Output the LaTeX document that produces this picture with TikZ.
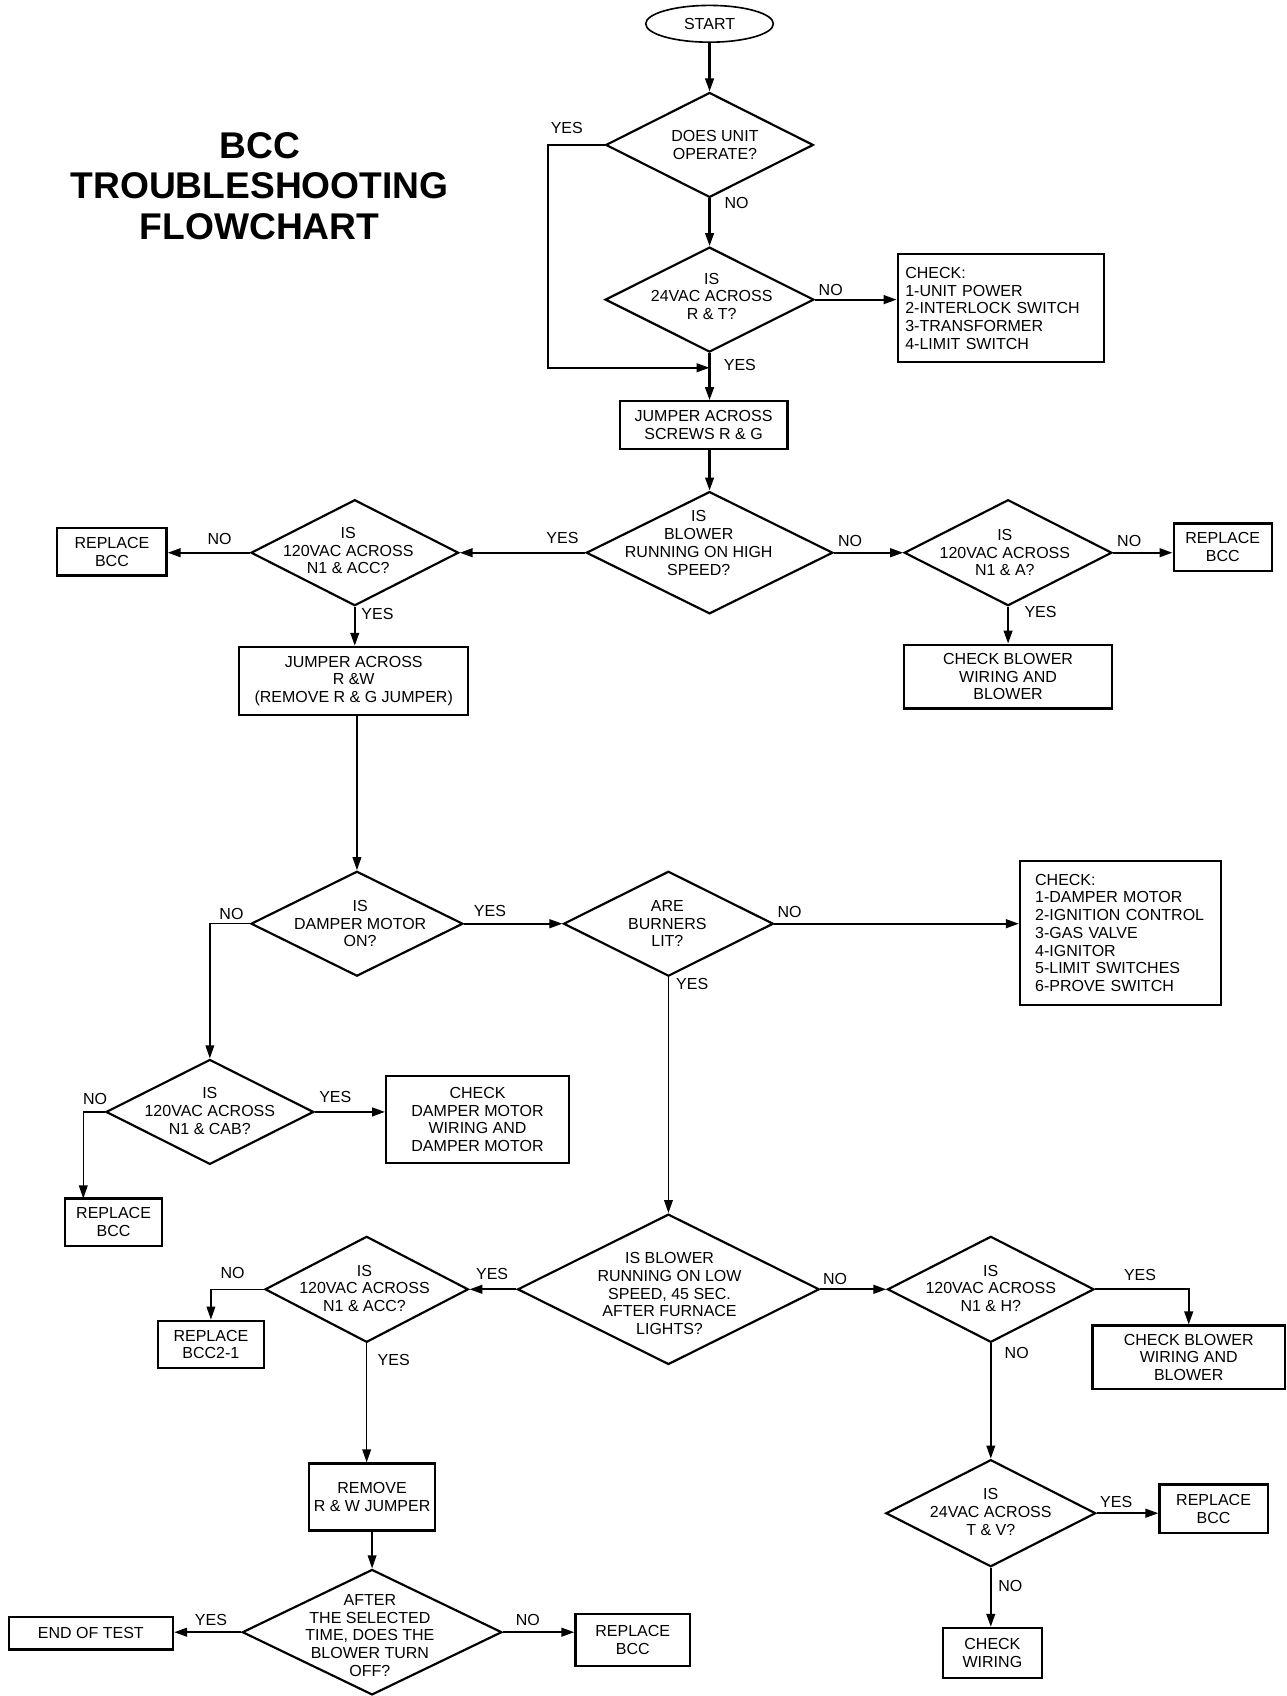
\documentclass[tikz,border=0pt]{standalone}
\usepackage{fontspec}
\setmainfont{Liberation Sans}
\usetikzlibrary{shapes.geometric,arrows.meta}
\begin{document}
\begin{tikzpicture}[x=1pt,y=-1pt,
 base/.style={font=\fontsize{14.8}{16.4}\selectfont},
 box/.style={draw, line width=2pt, rectangle, inner sep=0pt, align=center, base},
 lbox/.style={draw, line width=2pt, rectangle, inner ysep=0pt, align=left, base},
 dia/.style={draw, line width=2pt, diamond, inner sep=0pt},
 dtext/.style={base, align=center, inner sep=0pt},
 lab/.style={base, inner sep=0pt},
 arr/.style={line width=2pt, -{Triangle[length=12pt,width=8pt]}},
 tarr/.style={line width=1.4pt, -{Triangle[length=12pt,width=8pt]}},
 ln/.style={line width=2pt}]
\useasboundingbox (0,0) rectangle (1189,1568);

% title
\node[align=center, inner sep=0pt, font=\fontsize{34.4}{37.5}\selectfont\bfseries] (title) at (240,172) {BCC\\TROUBLESHOOTING\\FLOWCHART};

% nodes
\node[draw, ellipse, line width=1.5pt, minimum width=118pt, minimum height=34pt, inner sep=0pt, base] (start) at (656,22) {START};

\node[dia, minimum width=192pt, minimum height=97pt] (d1) at (656,134) {};
\node[dtext] (d1t) at (661,134) {DOES UNIT\\OPERATE?};

\node[dia, minimum width=193pt, minimum height=97pt] (d2) at (656,277) {};
\node[dtext] (d2t) at (658,274) {IS\\24VAC ACROSS\\R \& T?};

\node[lbox, minimum width=191pt, minimum height=100pt, inner xsep=7pt, text width=177pt] (chk1) at (925.5,285) {CHECK:\\1-UNIT POWER\\2-INTERLOCK SWITCH\\3-TRANSFORMER\\4-LIMIT SWITCH};

\node[box, minimum width=155pt, minimum height=44pt] (jmp1) at (650.5,393) {JUMPER ACROSS\\SCREWS R \& G};

\node[dia, minimum width=228pt, minimum height=113pt] (d3) at (656,511) {};
\node[dtext] (d3t) at (646,502) {IS\\BLOWER\\RUNNING ON HIGH\\SPEED?};

\node[dia, minimum width=192pt, minimum height=98pt] (d4) at (328,511) {};
\node[dtext] (d4t) at (322,509) {IS\\120VAC ACROSS\\N1 \& ACC?};

\node[box, minimum width=101pt, minimum height=44pt] (rep1) at (103.5,510) {REPLACE\\BCC};

\node[dia, minimum width=192pt, minimum height=98pt] (d5) at (932,511) {};
\node[dtext] (d5t) at (929,511) {IS\\120VAC ACROSS\\N1 \& A?};

\node[box, minimum width=91pt, minimum height=44pt] (rep2) at (1130.5,506) {REPLACE\\BCC};

\node[box, minimum width=192pt, minimum height=59pt] (chkb1) at (932,625.5) {CHECK BLOWER\\WIRING AND\\BLOWER};

\node[box, minimum width=212pt, minimum height=63pt] (jmp2) at (327,629.5) {JUMPER ACROSS\\R \&W\\(REMOVE R \& G JUMPER)};

\node[dia, minimum width=196pt, minimum height=97pt] (d6) at (330,854) {};
\node[dtext] (d6t) at (333,854) {IS\\DAMPER MOTOR\\ON?};

\node[dia, minimum width=194pt, minimum height=97pt] (d8) at (618,854) {};
\node[dtext] (d8t) at (617,854) {ARE\\BURNERS\\LIT?};

\node[lbox, minimum width=186pt, minimum height=133pt, inner xsep=14pt, text width=158pt] (chk2) at (1036,862.5) {CHECK:\\1-DAMPER MOTOR\\2-IGNITION CONTROL\\3-GAS VALVE\\4-IGNITOR\\5-LIMIT SWITCHES\\6-PROVE SWITCH};

\node[dia, minimum width=192pt, minimum height=97pt] (d7) at (194,1028) {};
\node[dtext] (d7t) at (194,1027) {IS\\120VAC ACROSS\\N1 \& CAB?};

\node[box, minimum width=90pt, minimum height=44pt] (rep3) at (105,1130) {REPLACE\\BCC};

\node[box, minimum width=169pt, minimum height=80pt] (chkd) at (441.5,1035) {CHECK\\DAMPER MOTOR\\WIRING AND\\DAMPER MOTOR};

\node[dia, minimum width=279pt, minimum height=139pt] (d9) at (618,1192) {};
\node[dtext] (d9t) at (619,1196) {IS BLOWER\\RUNNING ON LOW\\SPEED, 45 SEC.\\AFTER FURNACE\\LIGHTS?};

\node[dia, minimum width=188pt, minimum height=98pt] (d10) at (339,1192) {};
\node[dtext] (d10t) at (337,1191) {IS\\120VAC ACROSS\\N1 \& ACC?};

\node[box, minimum width=98pt, minimum height=44pt] (rep4) at (195,1243) {REPLACE\\BCC2-1};

\node[box, minimum width=116pt, minimum height=62pt] (rem) at (344,1384) {REMOVE\\R \& W JUMPER};

\node[dia, minimum width=240pt, minimum height=116pt] (d12) at (344,1509) {};
\node[dtext] (d12t) at (342,1512) {AFTER\\THE SELECTED\\TIME, DOES THE\\BLOWER TURN\\OFF?};

\node[box, minimum width=152pt, minimum height=30pt] (end) at (84,1510) {END OF TEST};

\node[box, minimum width=106pt, minimum height=48pt] (rep5) at (585,1516) {REPLACE\\BCC};

\node[dia, minimum width=191pt, minimum height=98pt] (d11) at (916,1192) {};
\node[dtext] (d11t) at (916,1191) {IS\\120VAC ACROSS\\N1 \& H?};

\node[box, minimum width=178pt, minimum height=59pt] (chkb2) at (1099,1255) {CHECK BLOWER\\WIRING AND\\BLOWER};

\node[dia, minimum width=194pt, minimum height=99pt] (d13) at (916,1399) {};
\node[dtext] (d13t) at (916,1398) {IS\\24VAC ACROSS\\T \& V?};

\node[box, minimum width=100pt, minimum height=45pt] (rep6) at (1122,1395) {REPLACE\\BCC};

\node[box, minimum width=91pt, minimum height=46pt] (chkw) at (917.5,1528) {CHECK\\WIRING};

% labels
\node[lab] (y1) at (524,118) {YES};
\node[lab] (n1) at (681,188) {NO};
\node[lab] (n2) at (768,268) {NO};
\node[lab] (y2) at (684,337) {YES};
\node[lab] (y3) at (520,497) {YES};
\node[lab] (n3) at (786,500) {NO};
\node[lab] (n4) at (203,498) {NO};
\node[lab] (y4) at (349,568) {YES};
\node[lab] (n5) at (1044,500) {NO};
\node[lab] (y5) at (962,566) {YES};
\node[lab] (n6) at (214,845) {NO};
\node[lab] (y6) at (453,842) {YES};
\node[lab] (n8) at (730,843) {NO};
\node[lab] (y8) at (640,910) {YES};
\node[lab] (n7) at (88,1016) {NO};
\node[lab] (y7) at (310,1014) {YES};
\node[lab] (y9) at (455,1178) {YES};
\node[lab] (n9) at (772,1182) {NO};
\node[lab] (n10) at (215,1177) {NO};
\node[lab] (y10) at (364,1257) {YES};
\node[lab] (y12) at (195,1498) {YES};
\node[lab] (n12) at (488,1498) {NO};
\node[lab] (y11) at (1054,1179) {YES};
\node[lab] (n11) at (940,1251) {NO};
\node[lab] (y13) at (1032,1389) {YES};
\node[lab] (n13) at (934,1466) {NO};

% helper coordinates
\coordinate (l1) at (507,134);
\coordinate (j1) at (656,340);
\coordinate (c7) at (77,1108);

% connectors
\draw[arr] (start.south) -- (d1.north);
\draw[arr] (d1.west) -- (l1) |- (j1);
\draw[arr] (d1.south) -- (d2.north);
\draw[arr] (d2.east) -- (d2.east -| chk1.west);
\draw[arr] (d2.south) -- (d2.south |- jmp1.north);
\draw[arr] (d3.north |- jmp1.south) -- (d3.north);
\draw[arr] (d3.west) -- (d4.east);
\draw[arr] (d3.east) -- (d5.west);
\draw[arr] (d4.west) -- (d4.west -| rep1.east);
\draw[arr] (d4.south) -- (d4.south |- jmp2.north);
\draw[arr] (d5.east) -- (d5.east -| rep2.west);
\draw[arr] (d5.south) -- (d5.south |- chkb1.north);
\draw[tarr] (d6.north |- jmp2.south) -- (d6.north);
\draw[tarr] (d6.west) -| (d7.north);
\draw[arr] (d6.east) -- (d8.west);
\draw[arr] (d8.east) -- (d8.east -| chk2.west);
\draw[tarr] (d8.south) -- (d9.north);
\draw[tarr] (d7.west) -| (c7);
\draw[arr] (d7.east) -- (d7.east -| chkd.west);
\draw[arr] (d9.west) -- (d10.east);
\draw[arr] (d9.east) -- (d11.west);
\draw[tarr] (d10.west) -| (rep4.north);
\draw[tarr] (d10.south) -- (d10.south |- rem.north);
\draw[tarr] (d12.north |- rem.south) -- (d12.north);
\draw[arr] (d12.west) -- (d12.west -| end.east);
\draw[arr] (d12.east) -- (d12.east -| rep5.west);
\draw[arr] (d11.east) -| (chkb2.north);
\draw[tarr] (d11.south) -- (d13.north);
\draw[arr] (d13.east) -- (d13.east -| rep6.west);
\draw[arr] (d13.south) -- (d13.south |- chkw.north);
\end{tikzpicture}
\end{document}
